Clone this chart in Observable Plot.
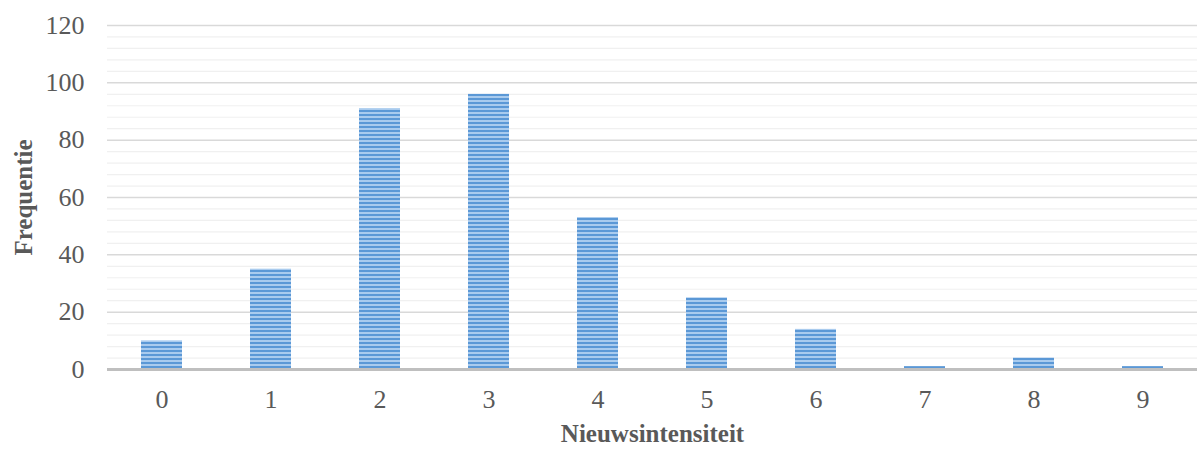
<!DOCTYPE html>
<html>
<head>
<meta charset="utf-8">
<script src="https://cdn.jsdelivr.net/npm/d3@7"></script>
<script src="https://cdn.jsdelivr.net/npm/@observablehq/plot@0.6"></script>
<style>
  body { margin: 0; background: #fff; }
  #chart svg { display: block; }
</style>
</head>
<body>
<div id="chart"></div>
<script>
// Frequency of news intensity scores
const categories = ["0", "1", "2", "3", "4", "5", "6", "7", "8", "9"];
const frequencies = [10, 35, 91, 96, 53, 25, 14, 1, 4, 1];
const majorTicks = [0, 20, 40, 60, 80, 100, 120];
const minorTicks = [4, 8, 12, 16, 24, 28, 32, 36, 44, 48, 52, 56, 64, 68, 72, 76, 84, 88, 92, 96, 104, 108, 112, 116];

const data = categories.map((c, i) => ({ category: c, value: frequencies[i] }));

const font = "'Liberation Serif', 'Times New Roman', serif";

const chart = Plot.plot({
  width: 1197,
  height: 451,
  marginTop: 25,
  marginBottom: 82,
  marginLeft: 107,
  marginRight: 0,
  style: { fontFamily: font, fontSize: "26px", color: "#595959", background: "#fff" },
  x: { domain: categories, paddingInner: 0.62, paddingOuter: 0.31, label: null },
  y: { domain: [0, 120], label: null },
  marks: [
    Plot.ruleY(minorTicks, { stroke: "#f0f0f0", strokeWidth: 1.2 }),
    Plot.ruleY(majorTicks.filter(d => d > 0), { stroke: "#d9d9d9", strokeWidth: 1.5 }),
    Plot.barY(data, { x: "category", y: "value", fill: "url(#stripes)" }),
    Plot.ruleY([0], { stroke: "#bfbfbf", strokeWidth: 3 }),
    Plot.axisY({ ticks: majorTicks, tickSize: 0, tickPadding: 23, fontSize: 26, fill: "#595959", label: null }),
    Plot.axisX({ tickSize: 0, tickPadding: 20, fontSize: 26, fill: "#595959", label: null }),
    Plot.text(["Frequentie"], {
      frameAnchor: "left", textAnchor: "middle", dx: -84, rotate: -90,
      fontSize: 25, fontWeight: "bold", fill: "#595959"
    }),
    Plot.text(["Nieuwsintensiteit"], {
      frameAnchor: "bottom", dy: 72,
      fontSize: 25, fontWeight: "bold", fill: "#595959"
    })
  ]
});

// Horizontal stripe fill used by the bars
const svg = d3.select(chart);
const defs = svg.insert("defs", ":first-child");
const pat = defs.append("pattern")
  .attr("id", "stripes")
  .attr("patternUnits", "userSpaceOnUse")
  .attr("y", 2)
  .attr("width", 8)
  .attr("height", 4);
pat.append("rect").attr("width", 8).attr("height", 4).attr("fill", "#a9cbee");
pat.append("rect").attr("width", 8).attr("height", 2).attr("fill", "#5b98d6");

document.getElementById("chart").appendChild(chart);
</script>
</body>
</html>
